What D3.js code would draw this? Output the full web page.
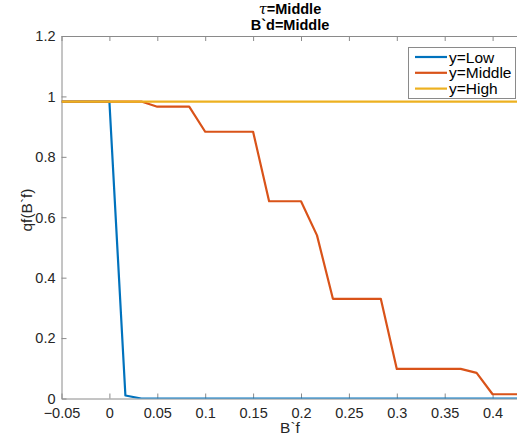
<!DOCTYPE html>
<html><head><meta charset="utf-8">
<script src="https://cdn.jsdelivr.net/npm/d3@7"></script>
<style>body{margin:0;background:#fff;} svg{display:block;}</style>
</head><body>
<svg id="c" width="517" height="438"></svg>
<script>
const bF = [-0.05, 0, 0.0167, 0.0333, 0.05, 0.0667, 0.0833, 0.1, 0.1167, 0.1333, 0.15, 0.1667, 0.1833, 0.2, 0.2167, 0.2333, 0.25, 0.2667, 0.2833, 0.3, 0.3167, 0.3333, 0.35, 0.3667, 0.3833, 0.4, 0.4167, 0.4333];
const qLow = [0.983, 0.983, 0.01, 0, 0, 0, 0, 0, 0, 0, 0, 0, 0, 0, 0, 0, 0, 0, 0, 0, 0, 0, 0, 0, 0, 0, 0, 0];
const qMiddle = [0.983, 0.983, 0.983, 0.983, 0.966, 0.966, 0.966, 0.883, 0.883, 0.883, 0.883, 0.653, 0.653, 0.653, 0.54, 0.33, 0.33, 0.33, 0.33, 0.098, 0.098, 0.098, 0.098, 0.098, 0.085, 0.014, 0.014, 0.014];
const qHigh = [0.983, 0.983, 0.983, 0.983, 0.983, 0.983, 0.983, 0.983, 0.983, 0.983, 0.983, 0.983, 0.983, 0.983, 0.983, 0.983, 0.983, 0.983, 0.983, 0.983, 0.983, 0.983, 0.983, 0.983, 0.983, 0.983, 0.983, 0.983];
const seriesNames = ["y=Low", "y=Middle", "y=High"];
const colors = ["#0072BD", "#D95319", "#EDB120"];
const xTicks = [-0.05, 0, 0.05, 0.1, 0.15, 0.2, 0.25, 0.3, 0.35, 0.4];
const yTicks = [0, 0.2, 0.4, 0.6, 0.8, 1, 1.2];
const titleLine2 = "B`d=Middle";
const xLabel = "B`f", yLabel = "qf(B`f)";

const svg = d3.select("#c");
const font = "'Liberation Sans', Arial, Helvetica, sans-serif";
const L = 61.5, R = 518.5, T = 36, B = 398.5;
const x = d3.scaleLinear().domain([-0.05, -0.05 + (R - L) / 958]).range([L, R]);
const y = d3.scaleLinear().domain([0, 1.2]).range([B, T]);
const axisCol = "#8a8a8a", textCol = "#262626";
const fs = "14.5px";

svg.append("defs").append("clipPath").attr("id", "clip")
  .append("rect").attr("x", L).attr("y", T).attr("width", R - L).attr("height", B - T);

// axes
const gx = svg.append("g").attr("transform", `translate(0,${B})`)
  .call(d3.axisBottom(x).tickValues(xTicks).tickSizeInner(-5).tickSizeOuter(0).tickFormat(d => d3.format("")(+d.toFixed(2))));
const gxt = svg.append("g").attr("transform", `translate(0,${T})`)
  .call(d3.axisTop(x).tickValues(xTicks).tickSizeInner(-5).tickSizeOuter(0).tickFormat(""));
const gy = svg.append("g").attr("transform", `translate(${L},0)`)
  .call(d3.axisLeft(y).tickValues(yTicks).tickSizeInner(-5).tickSizeOuter(0).tickPadding(6).tickFormat(d => d3.format("")(+d.toFixed(1))));
[gx, gxt, gy].forEach(g => {
  g.attr("font-size", null).attr("font-family", null);
  g.select(".domain").attr("stroke", axisCol).attr("stroke-width", 1);
  g.selectAll(".tick line").attr("stroke", axisCol);
  g.selectAll(".tick text").attr("fill", textCol).style("font-family", font).style("font-size", fs);
});
gx.selectAll(".tick text").attr("y", 19).attr("dy", "0");
gy.selectAll(".tick text").attr("dy", "0.33em");

// lines
const plot = svg.append("g").attr("clip-path", "url(#clip)");
[qLow, qMiddle, qHigh].forEach((vals, i) => {
  const line = d3.line().x((d, j) => x(bF[j])).y(d => y(d));
  plot.append("path").datum(vals).attr("d", line).attr("fill", "none")
    .attr("stroke", colors[i]).attr("stroke-width", 2.2).attr("stroke-linejoin", "round");
});

// title
const cx = (L + R) / 2;
const t1 = svg.append("text").attr("x", cx).attr("y", 13.5).attr("text-anchor", "middle")
  .style("font-family", font).style("font-size", "14.5px").style("font-weight", "bold").attr("fill", "#000");
t1.append("tspan").style("font-style", "italic").style("font-weight", "normal").style("font-family", "'DejaVu Serif', serif").text("τ");
t1.append("tspan").text("=Middle");
svg.append("text").attr("x", cx).attr("y", 29.5).attr("text-anchor", "middle")
  .style("font-family", font).style("font-size", "14.5px").style("font-weight", "bold").attr("fill", "#000").text(titleLine2);

// axis labels
svg.append("text").attr("x", cx).attr("y", 433).attr("text-anchor", "middle")
  .style("font-family", font).style("font-size", "15.5px").attr("fill", textCol).text(xLabel);
svg.append("text").attr("transform", `translate(32,210) rotate(-90)`).attr("text-anchor", "middle")
  .style("font-family", font).style("font-size", "15.5px").attr("fill", textCol).text(yLabel);

// legend
const lg = svg.append("g");
lg.append("rect").attr("x", 408.5).attr("y", 47.5).attr("width", 107).attr("height", 51)
  .attr("fill", "#fff").attr("stroke", axisCol).attr("stroke-width", 1);
seriesNames.forEach((n, i) => {
  const yy = 57 + i * 15.8;
  lg.append("line").attr("x1", 415).attr("x2", 447).attr("y1", yy).attr("y2", yy)
    .attr("stroke", colors[i]).attr("stroke-width", 2.2);
  lg.append("text").attr("x", 449).attr("y", yy).attr("dy", "0.36em")
    .style("font-family", font).style("font-size", "15.5px").attr("fill", "#000").text(n);
});
</script>
</body></html>
